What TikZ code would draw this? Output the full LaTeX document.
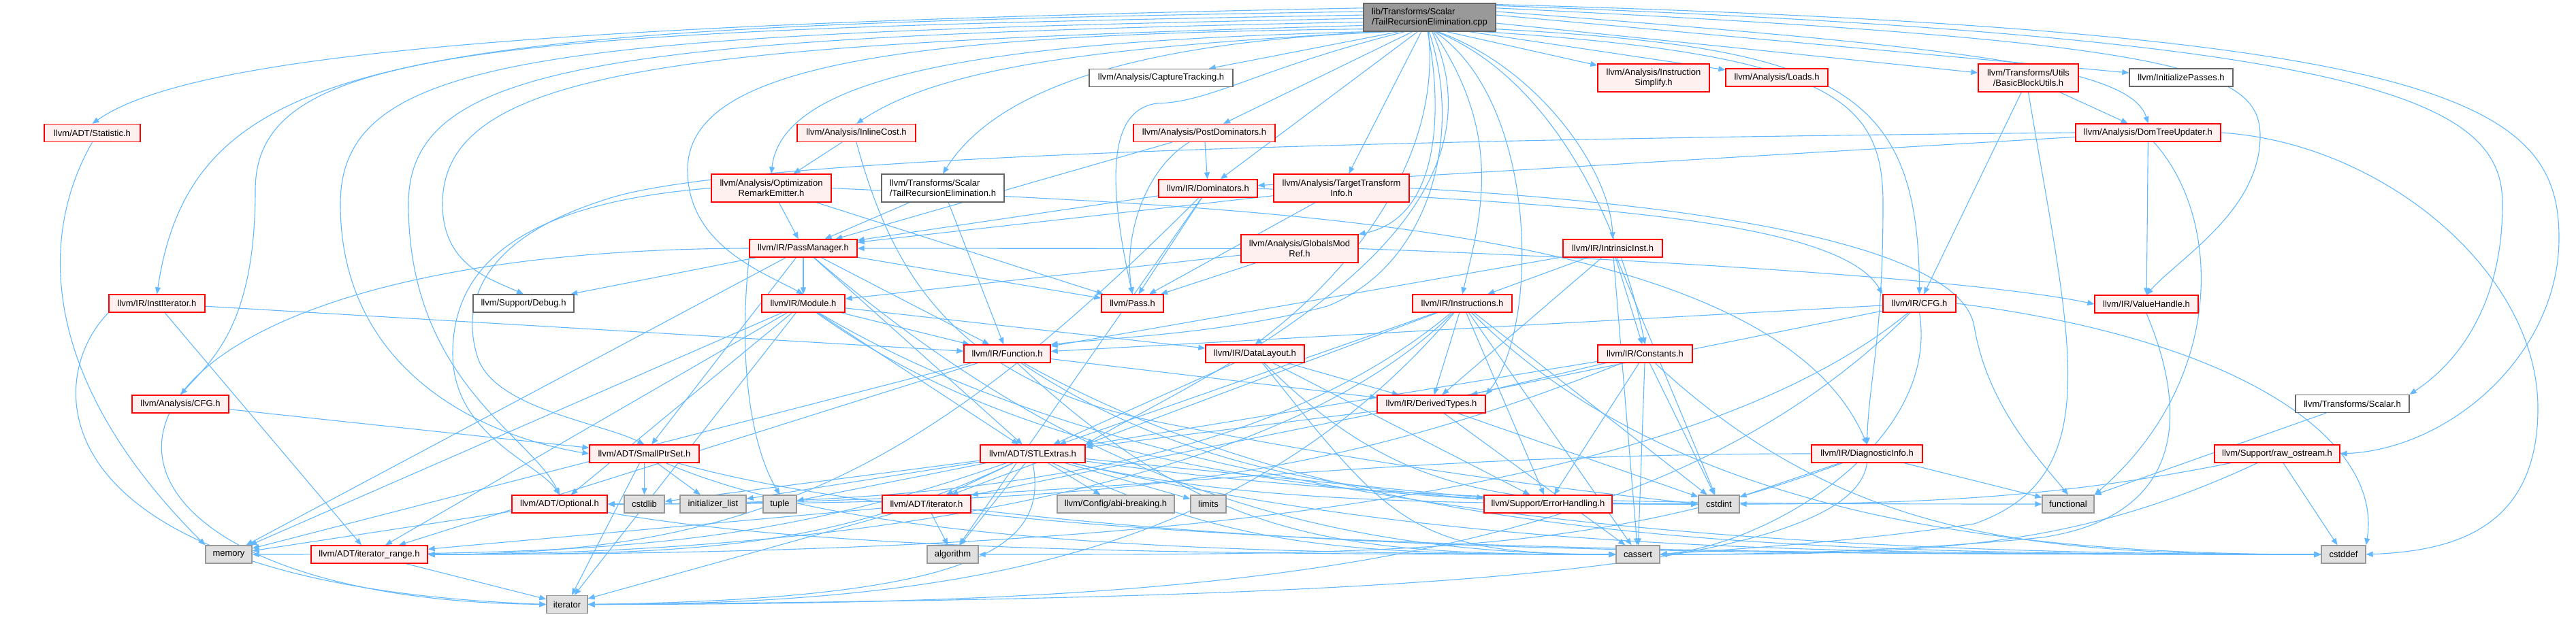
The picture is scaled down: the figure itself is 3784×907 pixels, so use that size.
\documentclass[tikz,border=0pt]{standalone}
\usepackage{fontspec}
\setmainfont{Liberation Sans}
\usetikzlibrary{arrows.meta}
\definecolor{nodered}{HTML}{FF0000}
\definecolor{nodefill}{HTML}{FFF0F0}
\definecolor{graybd}{HTML}{666666}
\definecolor{sysbd}{HTML}{999999}
\definecolor{sysfill}{HTML}{E0E0E0}
\definecolor{rootbd}{HTML}{666666}
\definecolor{rootfill}{HTML}{999999}
\definecolor{edgec}{HTML}{63B8FF}
\pgfdeclarelayer{bg}
\pgfsetlayers{bg,main}
\tikzset{
 nb/.style={draw=nodered, fill=nodefill, line width=1.3pt, inner sep=0pt, minimum height=26pt, font=\fontsize{13}{15}\selectfont, align=center, text=black},
 gb/.style={nb, draw=graybd, fill=white},
 sb/.style={nb, draw=sysbd, fill=sysfill},
 rb/.style={nb, draw=rootbd, fill=rootfill},
 e/.style={draw=edgec, line width=1.1pt, -{Triangle[length=10pt,width=8pt]}},
}
\begin{document}
\begin{tikzpicture}[x=1pt,y=-1pt]
\useasboundingbox (0,0) rectangle (3784,907);
% nodes
\node[rb, align=left, minimum width=194pt, minimum height=41pt] (root) at (2100,25.5) {lib/Transforms/Scalar\\/TailRecursionElimination.cpp};
\node[nb, minimum width=141pt] (stat) at (135.5,195.5) {llvm/ADT/Statistic.h};
\node[nb, minimum width=141pt] (instit) at (230.5,446) {llvm/IR/InstIterator.h};
\node[gb, minimum width=148pt] (debug) at (769,446) {llvm/Support/Debug.h};
\node[gb, minimum width=211pt] (capture) at (1705.5,114.5) {llvm/Analysis/CaptureTracking.h};
\node[nb, minimum width=174pt] (inline) at (1258,195.5) {llvm/Analysis/InlineCost.h};
\node[nb, minimum width=208pt] (postdom) at (1769,195.5) {llvm/Analysis/PostDominators.h};
\node[nb, minimum width=176pt, minimum height=41pt] (optrem) at (1133,276.5) {llvm/Analysis/Optimization\\RemarkEmitter.h};
\node[gb, align=left, minimum width=180pt, minimum height=41pt] (treh) at (1385,276.5) {llvm/Transforms/Scalar\\/TailRecursionElimination.h};
\node[nb, minimum width=145pt] (dom) at (1774.5,277) {llvm/IR/Dominators.h};
\node[nb, minimum width=158pt] (pm) at (1180,365) {llvm/IR/PassManager.h};
\node[nb, minimum width=122pt] (module) at (1180,446) {llvm/IR/Module.h};
\node[nb, minimum width=91pt] (pass) at (1663.5,446) {llvm/Pass.h};
\node[nb, minimum width=199pt, minimum height=41pt] (tti) at (1970.5,276.5) {llvm/Analysis/TargetTransform\\Info.h};
\node[nb, minimum width=172pt, minimum height=41pt] (gmr) at (1909,365.5) {llvm/Analysis/GlobalsMod\\Ref.h};
\node[nb, minimum width=164pt, minimum height=41pt] (instsimp) at (2429,114.5) {llvm/Analysis/Instruction\\Simplify.h};
\node[nb, minimum width=150pt] (loads) at (2610,114) {llvm/Analysis/Loads.h};
\node[nb, minimum width=146pt] (intrinsic) at (2369,365) {llvm/IR/IntrinsicInst.h};
\node[nb, minimum width=146pt] (instrs) at (2148,446) {llvm/IR/Instructions.h};
\node[nb, minimum width=147pt, minimum height=41pt] (bbu) at (2979.5,114.5) {llvm/Transforms/Utils\\/BasicBlockUtils.h};
\node[gb, minimum width=152pt] (initp) at (3204,114) {llvm/InitializePasses.h};
\node[nb, minimum width=213pt] (dtu) at (3155.5,195) {llvm/Analysis/DomTreeUpdater.h};
\node[nb, minimum width=107pt] (ircfg) at (2819.5,446) {llvm/IR/CFG.h};
\node[nb, minimum width=152pt] (vh) at (3153,447) {llvm/IR/ValueHandle.h};
\node[nb, minimum width=142pt] (acfg) at (265,594) {llvm/Analysis/CFG.h};
\node[nb, minimum width=161pt] (sps) at (946.5,667) {llvm/ADT/SmallPtrSet.h};
\node[nb, minimum width=140pt] (optional) at (822,741) {llvm/ADT/Optional.h};
\node[sb, minimum width=59pt] (cstdlib) at (946.5,741) {cstdlib};
\node[sb, minimum width=68pt] (memory) at (336,815) {memory};
\node[nb, minimum width=171pt] (itrange) at (542.5,815) {llvm/ADT/iterator\_range.h};
\node[sb, minimum width=60pt] (iterator) at (833,888.5) {iterator};
\node[nb, minimum width=127pt] (function) at (1479.5,520) {llvm/IR/Function.h};
\node[nb, minimum width=145pt] (datalayout) at (1843.5,520) {llvm/IR/DataLayout.h};
\node[nb, minimum width=154pt] (stlextras) at (1517,667) {llvm/ADT/STLExtras.h};
\node[sb, minimum width=97pt] (initlist) at (1047.5,741) {initializer\_list};
\node[sb, minimum width=49pt] (tuple) at (1145.5,741) {tuple};
\node[nb, minimum width=130pt] (adtiter) at (1361,741) {llvm/ADT/iterator.h};
\node[sb, minimum width=172pt] (abi) at (1639,741) {llvm/Config/abi-breaking.h};
\node[sb, minimum width=52pt] (limits) at (1775,741) {limits};
\node[sb, minimum width=75pt] (algorithm) at (1399.5,815) {algorithm};
\node[nb, minimum width=139pt] (constants) at (2416.5,520) {llvm/IR/Constants.h};
\node[nb, minimum width=159pt] (derived) at (2102.5,594) {llvm/IR/DerivedTypes.h};
\node[nb, minimum width=188pt] (errh) at (2274,741) {llvm/Support/ErrorHandling.h};
\node[sb, minimum width=60pt] (cstdint) at (2525,741) {cstdint};
\node[sb, minimum width=64pt] (cassert) at (2406,815) {cassert};
\node[nb, minimum width=163pt] (diag) at (2742.5,667) {llvm/IR/DiagnosticInfo.h};
\node[gb, minimum width=167pt] (tscalar) at (3455.5,593.5) {llvm/Transforms/Scalar.h};
\node[nb, minimum width=184pt] (rawos) at (3345,667) {llvm/Support/raw\_ostream.h};
\node[sb, minimum width=76pt] (functional) at (3038,741) {functional};
\node[sb, minimum width=65pt] (cstddef) at (3442.5,815) {cstddef};
\begin{pgfonlayer}{bg}
% root edges
\draw[e] (root.172) .. controls (800,35) and (280,80) .. (stat.north);
\draw[e] (root.175) .. controls (600,40) and (285,70) .. (instit.north);
\draw[e] (root.178) .. controls (700,45) and (375,70) .. (375,280) .. controls (375,480) and (310,530) .. (acfg.north);
\draw[e] (root.181) .. controls (800,50) and (500,80) .. (500,300) .. controls (500,540) and (700,640) .. (sps.west);
\draw[e] (root.184) .. controls (900,55) and (600,90) .. (600,300) .. controls (600,560) and (780,640) .. (optional.north);
\draw[e] (root.187) .. controls (1000,65) and (650,100) .. (650,300) .. controls (650,390) and (720,410) .. (debug.north);
\draw[e] (root.190) .. controls (1300,50) and (1010,100) .. (1010,250) .. controls (1010,360) and (1120,400) .. (module.north);
\draw[e] (root.193) .. controls (1500,60) and (1150,100) .. (optrem.north);
\draw[e] (root.196) .. controls (1600,70) and (1380,100) .. (inline.north);
\draw[e] (root.200) .. controls (1700,60) and (1470,120) .. (treh.north);
\draw[e] (root.205) -- (capture);
\draw[e] (root.210) .. controls (1850,100) and (1780,150) .. (1700,152) .. controls (1630,160) and (1625,260) .. (pass.north);
\draw[e] (root.220) -- (postdom);
\draw[e] (root.230) -- (dom);
\draw[e] (root.240) -- (tti);
\draw[e] (root.262) .. controls (2118,150) and (2120,320) .. (gmr.north east);
\draw[e] (root.268) .. controls (2150,200) and (2100,390) .. (1950,450) .. controls (1800,490) and (1650,495) .. (function.north east);
\draw[e] (root.265) .. controls (2120,250) and (1960,420) .. (datalayout.north);
\draw[e] (root.285) .. controls (2210,200) and (2175,320) .. (instrs.north);
\draw[e] (root.290) .. controls (2260,150) and (2262,480) .. (derived.north east);
\draw[e] (root.295) .. controls (2290,120) and (2385,350) .. (constants.north);
\draw[e] (root.300) .. controls (2260,100) and (2365,250) .. (intrinsic.north);
\draw[e] (root.280) .. controls (2240,350) and (1750,560) .. (stlextras.north east);
\draw[e] (root.320) -- (instsimp);
\draw[e] (root.340) -- (loads);
\draw[e] (root.355) -- (bbu);
\draw[e] (root.2) -- (initp);
\draw[e] (root.5) .. controls (2900,70) and (3130,100) .. (dtu.north);
\draw[e] (root.350) .. controls (2700,70) and (2818,130) .. (ircfg.north);
\draw[e] (root.345) .. controls (2700,80) and (2766,150) .. (2766,300) .. controls (2766,500) and (2745,560) .. (diag.north);
\draw[e] (root.8) .. controls (3200,60) and (3320,100) .. (3320,200) .. controls (3320,310) and (3200,380) .. (vh.north);
\draw[e] (root.10) .. controls (3500,55) and (3676,150) .. (3676,300) .. controls (3676,460) and (3600,540) .. (tscalar.north east);
\draw[e] (root.11) .. controls (3600,45) and (3759,150) .. (3759,350) .. controls (3759,520) and (3600,660) .. (rawos.east);
% other edges
\draw[e] (treh) -- (pm);
\draw[e] (treh) -- (function);
\draw[e] (inline) -- (optrem);
\draw[e] (inline.south) .. controls (1310,400) and (1400,560) .. (1700,620) .. controls (2100,700) and (2400,730) .. (cstdint.west);
\draw[e] (optrem) -- (pm);
\draw[e] (optrem) -- (pass);
\draw[e] (optrem.east) .. controls (1800,305) and (2600,320) .. (diag.north);
\draw[e] (optrem.west) .. controls (750,300) and (665,400) .. (665,520) .. controls (665,640) and (790,680) .. (optional.north);
\draw[e] (dtu.west) .. controls (2000,205) and (1100,230) .. (900,290) .. controls (700,350) and (680,450) .. (700,520) .. controls (720,600) and (880,620) .. (sps.north);
\draw[e] (postdom) -- (dom);
\draw[e] (postdom) .. controls (1680,250) and (1650,350) .. (pass.north);
\draw[e] (postdom) -- (pm);
\draw[e] (dom) -- (pm);
\draw[e] (dom) -- (pass);
\draw[e] (dom.east) .. controls (2300,300) and (2700,320) .. (ircfg.north west);
\draw[e] (dom) .. controls +(-400,400) and +(500,0) .. (itrange.east);
\draw[e] (dom) -- (algorithm);
\draw[e] (tti) -- (pass);
\draw[e] (tti) -- (pm);
\draw[e] (tti.east) .. controls (2500,300) and (2880,360) .. (2900,480) .. controls (2920,600) and (3000,680) .. (functional.north);
\draw[e] (gmr) -- (pass);
\draw[e] (gmr) -- (module);
\draw[e] (gmr.east) .. controls (2400,380) and (2900,410) .. (vh.west);
\draw[e] (gmr) -- (pm);
\draw[e] (pm) -- (module);
\draw[e] (pm) -- (function);
\draw[e] (pm) -- (pass);
\draw[e] (pm) -- (sps);
\draw[e] (pm) -- (debug);
\draw[e] (pm.west) .. controls (10,368) and (5,880) .. (iterator.west);
\draw[e] (pm) -- (memory);
\draw[e] (pm.south west) .. controls (1085,520) and (1100,650) .. (tuple.north);
\draw[e] (pm) -- (stlextras);
\draw[e] (pm) .. controls +(350,300) and +(-500,0) .. (cassert.west);
\draw[e] (module) -- (function);
\draw[e] (module) -- (datalayout);
\draw[e] (module) -- (stlextras);
\draw[e] (module) -- (optional);
\draw[e] (module) -- (itrange);
\draw[e] (module) .. controls +(500,300) and +(-900,0) .. (cstddef.west);
\draw[e] (module) .. controls +(350,250) and +(-500,0) .. (cstdint.west);
\draw[e] (module) -- (iterator);
\draw[e] (module) -- (memory);
\draw[e] (instrs) -- (stlextras);
\draw[e] (instrs) -- (adtiter);
\draw[e] (instrs) .. controls +(-300,300) and +(500,0) .. (itrange.east);
\draw[e] (instrs) -- (derived);
\draw[e] (instrs) -- (errh);
\draw[e] (instrs) -- (cassert);
\draw[e] (instrs) .. controls +(300,300) and +(-500,0) .. (cstddef.west);
\draw[e] (instrs) -- (cstdint);
\draw[e] (instrs) .. controls +(-300,350) and +(600,0) .. (iterator.east);
\draw[e] (instrs) .. controls +(-300,250) and +(500,0) .. (optional.east);
\draw[e] (intrinsic) -- (instrs);
\draw[e] (intrinsic) -- (function);
\draw[e] (intrinsic) -- (constants);
\draw[e] (intrinsic) -- (derived);
\draw[e] (intrinsic) -- (cstdint);
\draw[e] (intrinsic) -- (cassert);
\draw[e] (bbu) -- (dtu);
\draw[e] (bbu) -- (ircfg);
\draw[e] (bbu.south) .. controls (3040,500) and (3100,700) .. (2900,770) .. controls (2700,800) and (2500,810) .. (cassert.east);
\draw[e] (dtu) -- (vh);
\draw[e] (dtu) -- (dom);
\draw[e] (dtu.-60) .. controls (3265,320) and (3270,560) .. (functional.north east);
\draw[e] (dtu.east) .. controls (3500,210) and (3728,400) .. (3728,600) .. controls (3728,780) and (3600,810) .. (cstddef.east);
\draw[e] (ircfg) -- (function);
\draw[e] (ircfg) .. controls +(-400,330) and +(800,0) .. (itrange.east);
\draw[e] (ircfg) -- (adtiter);
\draw[e] (ircfg.south) .. controls (2850,650) and (2600,800) .. (cassert.east);
\draw[e] (ircfg.east) .. controls (3300,500) and (3500,650) .. (cstddef.north east);
\draw[e] (ircfg) .. controls +(-400,400) and +(900,0) .. (iterator.east);
\draw[e] (vh.south) .. controls (3220,620) and (3200,760) .. (3000,790) .. controls (2800,810) and (2600,815) .. (cassert.east);
\draw[e] (acfg) -- (sps);
\draw[e] (sps) -- (cstdlib);
\draw[e] (sps) -- (initlist);
\draw[e] (sps) -- (iterator);
\draw[e] (sps) .. controls +(300,130) and +(-600,0) .. (cassert.west);
\draw[e] (sps) .. controls +(500,140) and +(-900,0) .. (cstddef.west);
\draw[e] (optional) -- (memory);
\draw[e] (optional) .. controls +(400,70) and +(-600,0) .. (cassert.west);
\draw[e] (itrange) -- (iterator);
\draw[e] (function) -- (itrange);
\draw[e] (function) -- (derived);
\draw[e] (function) .. controls +(300,280) and +(-400,0) .. (cassert.west);
\draw[e] (function) .. controls +(500,280) and +(-800,0) .. (cstddef.west);
\draw[e] (function) .. controls +(300,200) and +(-400,0) .. (cstdint.west);
\draw[e] (function) -- (memory);
\draw[e] (datalayout) -- (stlextras);
\draw[e] (datalayout) -- (derived);
\draw[e] (datalayout) -- (errh);
\draw[e] (datalayout) .. controls +(200,250) and +(-300,0) .. (cassert.west);
\draw[e] (datalayout) .. controls +(200,200) and +(-300,0) .. (cstdint.west);
\draw[e] (stlextras) -- (adtiter);
\draw[e] (stlextras) .. controls +(-300,140) and +(400,0) .. (itrange.east);
\draw[e] (stlextras) -- (abi);
\draw[e] (stlextras) -- (errh);
\draw[e] (stlextras) -- (algorithm);
\draw[e] (stlextras) .. controls +(300,140) and +(-400,0) .. (cassert.west);
\draw[e] (stlextras) .. controls +(600,140) and +(-800,0) .. (cstddef.west);
\draw[e] (stlextras) .. controls +(300,70) and +(-400,0) .. (cstdint.west);
\draw[e] (stlextras) -- (cstdlib);
\draw[e] (stlextras) .. controls +(500,70) and +(-600,0) .. (functional.west);
\draw[e] (stlextras) -- (initlist);
\draw[e] (stlextras.south) .. controls (1540,800) and (1450,880) .. (iterator.east);
\draw[e] (stlextras) -- (limits);
\draw[e] (stlextras) .. controls +(-400,140) and +(500,0) .. (memory.east);
\draw[e] (stlextras) -- (tuple);
\draw[e] (adtiter) -- (itrange);
\draw[e] (adtiter) -- (algorithm);
\draw[e] (adtiter) .. controls +(600,70) and +(-900,0) .. (cstddef.west);
\draw[e] (adtiter) -- (iterator);
\draw[e] (constants) -- (stlextras);
\draw[e] (constants) -- (derived);
\draw[e] (constants) -- (errh);
\draw[e] (constants) -- (cassert);
\draw[e] (constants) .. controls +(300,280) and +(-400,0) .. (cstddef.west);
\draw[e] (constants) -- (cstdint);
\draw[e] (constants) .. controls +(-500,200) and +(700,0) .. (optional.east);
\draw[e] (derived) -- (stlextras);
\draw[e] (derived) -- (cassert);
\draw[e] (derived) -- (cstdint);
\draw[e] (diag) -- (functional);
\draw[e] (diag) -- (cstdint);
\draw[e] (diag.south) .. controls (2720,850) and (2000,880) .. (iterator.east);
\draw[e] (diag) .. controls +(-400,150) and +(600,0) .. (algorithm.east);
\draw[e] (diag.west) .. controls +(-700,0) and +(700,0) .. (optional.east);
\draw[e] (rawos) -- (cstddef);
\draw[e] (rawos) .. controls +(-300,60) and +(300,0) .. (cstdint.east);
\draw[e] (rawos) .. controls +(-300,140) and +(400,0) .. (cassert.east);
\draw[e] (tscalar) -- (functional);
\draw[e] (instit) -- (function);
\draw[e] (instit) -- (itrange);
\draw[e] (instit.south west) .. controls (60,560) and (50,860) .. (iterator.west);
\draw[e] (stat.south) .. controls (55,350) and (60,560) .. (memory.north west);
\end{pgfonlayer}
\end{tikzpicture}
\end{document}
